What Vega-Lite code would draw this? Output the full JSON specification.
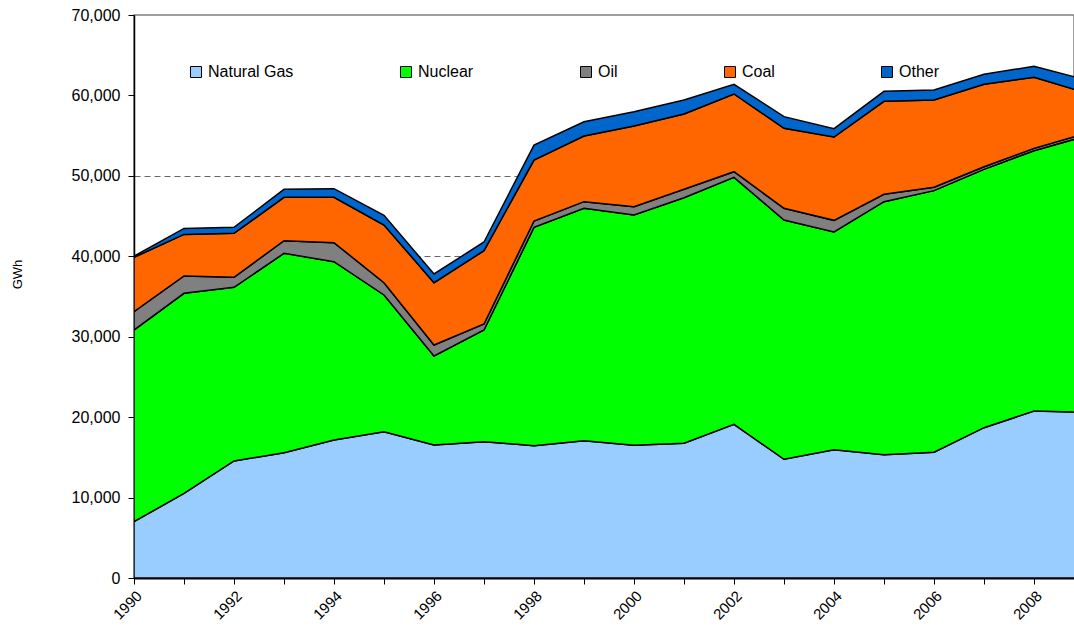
{
  "$schema": "https://vega.github.io/schema/vega-lite/v6.json",
  "width": 940,
  "height": 563,
  "autosize": "none",
  "padding": {"left": 134, "top": 15, "right": 0, "bottom": 50},
  "background": "white",
  "config": {
    "font": "Liberation Sans",
    "view": {"stroke": "#808080", "strokeWidth": 1.5}
  },
  "data": {
    "values": [
      {"year": 1990, "source": "Natural Gas", "gwh": 7000},
      {"year": 1990, "source": "Nuclear", "gwh": 23830},
      {"year": 1990, "source": "Oil", "gwh": 2280},
      {"year": 1990, "source": "Coal", "gwh": 6760},
      {"year": 1990, "source": "Other", "gwh": 150},
      {"year": 1991, "source": "Natural Gas", "gwh": 10530},
      {"year": 1991, "source": "Nuclear", "gwh": 24870},
      {"year": 1991, "source": "Oil", "gwh": 2150},
      {"year": 1991, "source": "Coal", "gwh": 5170},
      {"year": 1991, "source": "Other", "gwh": 750},
      {"year": 1992, "source": "Natural Gas", "gwh": 14550},
      {"year": 1992, "source": "Nuclear", "gwh": 21590},
      {"year": 1992, "source": "Oil", "gwh": 1240},
      {"year": 1992, "source": "Coal", "gwh": 5470},
      {"year": 1992, "source": "Other", "gwh": 750},
      {"year": 1993, "source": "Natural Gas", "gwh": 15580},
      {"year": 1993, "source": "Nuclear", "gwh": 24790},
      {"year": 1993, "source": "Oil", "gwh": 1570},
      {"year": 1993, "source": "Coal", "gwh": 5390},
      {"year": 1993, "source": "Other", "gwh": 1000},
      {"year": 1994, "source": "Natural Gas", "gwh": 17160},
      {"year": 1994, "source": "Nuclear", "gwh": 22170},
      {"year": 1994, "source": "Oil", "gwh": 2360},
      {"year": 1994, "source": "Coal", "gwh": 5640},
      {"year": 1994, "source": "Other", "gwh": 1080},
      {"year": 1995, "source": "Natural Gas", "gwh": 18190},
      {"year": 1995, "source": "Nuclear", "gwh": 17000},
      {"year": 1995, "source": "Oil", "gwh": 1530},
      {"year": 1995, "source": "Coal", "gwh": 7170},
      {"year": 1995, "source": "Other", "gwh": 1200},
      {"year": 1996, "source": "Natural Gas", "gwh": 16540},
      {"year": 1996, "source": "Nuclear", "gwh": 11060},
      {"year": 1996, "source": "Oil", "gwh": 1370},
      {"year": 1996, "source": "Coal", "gwh": 7750},
      {"year": 1996, "source": "Other", "gwh": 1080},
      {"year": 1997, "source": "Natural Gas", "gwh": 16950},
      {"year": 1997, "source": "Nuclear", "gwh": 13880},
      {"year": 1997, "source": "Oil", "gwh": 750},
      {"year": 1997, "source": "Coal", "gwh": 9120},
      {"year": 1997, "source": "Other", "gwh": 1080},
      {"year": 1998, "source": "Natural Gas", "gwh": 16450},
      {"year": 1998, "source": "Nuclear", "gwh": 27150},
      {"year": 1998, "source": "Oil", "gwh": 790},
      {"year": 1998, "source": "Coal", "gwh": 7580},
      {"year": 1998, "source": "Other", "gwh": 1860},
      {"year": 1999, "source": "Natural Gas", "gwh": 17070},
      {"year": 1999, "source": "Nuclear", "gwh": 28890},
      {"year": 1999, "source": "Oil", "gwh": 830},
      {"year": 1999, "source": "Coal", "gwh": 8160},
      {"year": 1999, "source": "Other", "gwh": 1780},
      {"year": 2000, "source": "Natural Gas", "gwh": 16500},
      {"year": 2000, "source": "Nuclear", "gwh": 28630},
      {"year": 2000, "source": "Oil", "gwh": 1040},
      {"year": 2000, "source": "Coal", "gwh": 10030},
      {"year": 2000, "source": "Other", "gwh": 1780},
      {"year": 2001, "source": "Natural Gas", "gwh": 16750},
      {"year": 2001, "source": "Nuclear", "gwh": 30530},
      {"year": 2001, "source": "Oil", "gwh": 1050},
      {"year": 2001, "source": "Coal", "gwh": 9360},
      {"year": 2001, "source": "Other", "gwh": 1740},
      {"year": 2002, "source": "Natural Gas", "gwh": 19110},
      {"year": 2002, "source": "Nuclear", "gwh": 30710},
      {"year": 2002, "source": "Oil", "gwh": 700},
      {"year": 2002, "source": "Coal", "gwh": 9660},
      {"year": 2002, "source": "Other", "gwh": 1200},
      {"year": 2003, "source": "Natural Gas", "gwh": 14760},
      {"year": 2003, "source": "Nuclear", "gwh": 29750},
      {"year": 2003, "source": "Oil", "gwh": 1450},
      {"year": 2003, "source": "Coal", "gwh": 9950},
      {"year": 2003, "source": "Other", "gwh": 1450},
      {"year": 2004, "source": "Natural Gas", "gwh": 15950},
      {"year": 2004, "source": "Nuclear", "gwh": 27070},
      {"year": 2004, "source": "Oil", "gwh": 1450},
      {"year": 2004, "source": "Coal", "gwh": 10360},
      {"year": 2004, "source": "Other", "gwh": 1040},
      {"year": 2005, "source": "Natural Gas", "gwh": 15330},
      {"year": 2005, "source": "Nuclear", "gwh": 31460},
      {"year": 2005, "source": "Oil", "gwh": 920},
      {"year": 2005, "source": "Coal", "gwh": 11560},
      {"year": 2005, "source": "Other", "gwh": 1240},
      {"year": 2006, "source": "Natural Gas", "gwh": 15630},
      {"year": 2006, "source": "Nuclear", "gwh": 32530},
      {"year": 2006, "source": "Oil", "gwh": 420},
      {"year": 2006, "source": "Coal", "gwh": 10850},
      {"year": 2006, "source": "Other", "gwh": 1240},
      {"year": 2007, "source": "Natural Gas", "gwh": 18690},
      {"year": 2007, "source": "Nuclear", "gwh": 32120},
      {"year": 2007, "source": "Oil", "gwh": 330},
      {"year": 2007, "source": "Coal", "gwh": 10260},
      {"year": 2007, "source": "Other", "gwh": 1240},
      {"year": 2008, "source": "Natural Gas", "gwh": 20760},
      {"year": 2008, "source": "Nuclear", "gwh": 32370},
      {"year": 2008, "source": "Oil", "gwh": 290},
      {"year": 2008, "source": "Coal", "gwh": 8830},
      {"year": 2008, "source": "Other", "gwh": 1370},
      {"year": 2009, "source": "Natural Gas", "gwh": 20610},
      {"year": 2009, "source": "Nuclear", "gwh": 34280},
      {"year": 2009, "source": "Oil", "gwh": 340},
      {"year": 2009, "source": "Coal", "gwh": 5160},
      {"year": 2009, "source": "Other", "gwh": 1610}
    ]
  },
  "transform": [
    {"calculate": "indexof(['Natural Gas','Nuclear','Oil','Coal','Other'], datum.source)", "as": "ord"}
  ],
  "mark": {"type": "area", "stroke": "black", "strokeWidth": 1.5, "strokeJoin": "miter", "clip": true, "opacity": 1, "fillOpacity": 1},
  "encoding": {
    "x": {
      "field": "year",
      "type": "quantitative",
      "scale": {"domain": [1990, 2008.8], "nice": false, "zero": false},
      "axis": {
        "title": null,
        "values": [1990, 1991, 1992, 1993, 1994, 1995, 1996, 1997, 1998, 1999, 2000, 2001, 2002, 2003, 2004, 2005, 2006, 2007, 2008],
        "labelExpr": "datum.value % 2 == 0 ? '' + datum.value : ''",
        "labelAngle": -45,
        "labelAlign": "right",
        "labelBaseline": "top",
        "labelFontSize": 15,
        "labelColor": "black",
        "labelPadding": 4,
        "labelOverlap": false,
        "labelFlush": false,
        "grid": false,
        "domainColor": "black",
        "domainWidth": 2,
        "tickColor": "black",
        "tickSize": 6,
        "tickWidth": 1
      }
    },
    "y": {
      "field": "gwh",
      "type": "quantitative",
      "stack": "zero",
      "scale": {"domain": [0, 70000], "nice": false},
      "axis": {
        "title": "GWh",
        "titleFontSize": 13,
        "titleFontWeight": "normal",
        "titleColor": "black",
        "titleX": -117,
        "titleY": 259,
        "titleAngle": -90,
        "titleAlign": "center",
        "titleBaseline": "middle",
        "values": [0, 10000, 20000, 30000, 40000, 50000, 60000, 70000],
        "format": ",d",
        "labelFontSize": 16,
        "labelColor": "black",
        "labelPadding": 8,
        "grid": true,
        "gridColor": "#404040",
        "gridDash": [6, 4],
        "gridWidth": 0.8,
        "gridOpacity": {"condition": {"test": "datum.value >= 60000", "value": 0}, "value": 1},
        "domainColor": "black",
        "domainWidth": 1.5,
        "tickColor": "black",
        "tickSize": 6,
        "tickWidth": 1
      }
    },
    "color": {
      "field": "source",
      "type": "nominal",
      "scale": {
        "domain": ["Natural Gas", "Nuclear", "Oil", "Coal", "Other"],
        "range": ["#99CCFF", "#00FF00", "#808080", "#FF6600", "#0066CC"]
      },
      "legend": {
        "title": null,
        "orient": "none",
        "legendX": 54,
        "legendY": 49,
        "direction": "horizontal",
        "columns": 5,
        "columnPadding": 104,
        "padding": 0,
        "symbolType": "square",
        "symbolSize": 121,
        "symbolStrokeColor": "black",
        "symbolStrokeWidth": 1,
        "symbolOpacity": 1,
        "labelFontSize": 16,
        "labelColor": "black",
        "labelOffset": 4
      }
    },
    "order": {"field": "ord", "type": "quantitative", "sort": "ascending"}
  }
}
